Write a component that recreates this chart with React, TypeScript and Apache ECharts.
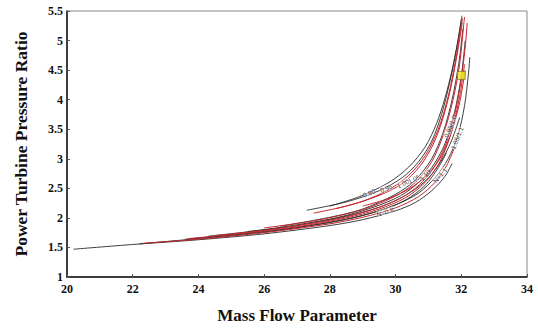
import React, { useEffect, useRef } from "react";
import * as echarts from "echarts";

const xTicks = [20, 22, 24, 26, 28, 30, 32, 34];
const yTicks = [1, 1.5, 2, 2.5, 3, 3.5, 4, 4.5, 5, 5.5];

// Black speed lines (mass flow, pressure ratio)
const black1 = [[20.2,1.47],[22,1.55],[24,1.63],[26,1.73],[28,1.87],[29,1.97],[30,2.12],[30.6,2.26],[31.1,2.46],[31.5,2.7],[31.72,2.92]];
const black2 = [[22.2,1.56],[24,1.65],[26,1.76],[28,1.92],[29,2.04],[30,2.22],[30.7,2.42],[31.2,2.68],[31.6,3.0],[31.9,3.4],[32.1,3.9],[32.22,4.45],[32.26,4.72]];
const black3 = [[23.6,1.64],[25,1.71],[27,1.84],[28.5,1.98],[29.5,2.12],[30.3,2.3],[30.9,2.55],[31.3,2.85],[31.55,3.1]];
const black4 = [[24.3,1.69],[26,1.8],[28,1.98],[29,2.12],[30,2.33],[30.6,2.55],[31.1,2.85],[31.5,3.25],[31.8,3.8],[32.0,4.4],[32.12,5.0]];
const black5 = [[26.5,1.86],[28,2.01],[29,2.15],[30,2.4],[30.6,2.64],[31.1,3.0],[31.45,3.45],[31.72,4.0],[31.92,4.6],[32.05,5.2]];
const black6 = [[27.3,2.13],[28.5,2.27],[29.5,2.46],[30.2,2.68],[30.7,2.95],[31.1,3.3],[31.4,3.75],[31.65,4.3],[31.85,4.85],[32.0,5.35]];
const black7 = [[28.0,2.2],[28.9,2.36],[29.8,2.6],[30.4,2.86],[30.9,3.2],[31.25,3.6],[31.5,4.02],[31.72,4.5],[31.9,5.0],[32.02,5.42]];
const black8 = [[25.5,1.77],[27,1.87],[28.5,2.03],[29.5,2.18],[30.3,2.38],[30.9,2.62],[31.35,2.93],[31.7,3.3],[31.95,3.7]];

// Red speed lines
const red1 = [[22.3,1.57],[24,1.64],[26,1.75],[28,1.9],[29,2.01],[30,2.17],[30.7,2.36],[31.2,2.6],[31.55,2.88],[31.8,3.2]];
const red2 = [[23.7,1.65],[25,1.72],[27,1.85],[28.5,2.0],[29.5,2.15],[30.3,2.34],[30.9,2.6],[31.35,2.95],[31.7,3.45],[31.95,4.05],[32.1,4.6]];
const red3 = [[24.5,1.7],[26,1.79],[28,1.96],[29,2.09],[30,2.29],[30.6,2.5],[31.1,2.8],[31.5,3.2],[31.8,3.75],[32.0,4.35],[32.13,4.95],[32.18,5.3]];
const red4 = [[26,1.83],[27.5,1.95],[29,2.14],[30,2.37],[30.6,2.6],[31.1,2.95],[31.45,3.4],[31.75,4.0],[31.95,4.6],[32.07,5.25],[32.1,5.4]];
const red5 = [[27.5,2.08],[28.5,2.2],[29.5,2.38],[30.2,2.58],[30.75,2.88],[31.15,3.25],[31.45,3.7],[31.7,4.25],[31.9,4.85],[32.03,5.3]];
const red6 = [[28.2,2.16],[29,2.28],[29.8,2.48],[30.4,2.72],[30.9,3.05],[31.3,3.5],[31.6,4.05],[31.82,4.65],[31.98,5.2],[32.04,5.38]];
const red7 = [[29.0,2.2],[29.8,2.33],[30.5,2.52],[31.0,2.75],[31.4,3.05],[31.7,3.45],[31.95,3.95],[32.12,4.5]];

const blackCurves = [black1, black2, black3, black4, black5, black6, black7, black8];
const redCurves = [red1, red2, red3, red4, red5, red6, red7];

// Operating point
const operatingPoint = [32.0, 4.41];

// Speed-line labels
const labelX = [29.68, 29.19, 29.71, 30.23, 30.56, 30.9, 31.35, 31.66, 31.87];
const labelY = [2.1, 2.42, 2.5, 2.58, 2.66, 2.72, 2.72, 3.55, 3.35];
const labelText = ["N=0.8", "0.90", "0.95", "1.00", "1.05", "1.10", "N=1.1", "0.95/1.0", "1.05/1.1"];
const labelRot = [18, 22, 22, 24, 26, 45, 50, 68, 68];

export default function App() {
  const ref = useRef<HTMLDivElement>(null);
  useEffect(() => {
    if (!ref.current) return;
    const chart = echarts.init(ref.current, null, { renderer: "svg" });
    const font = "'Liberation Serif', 'Times New Roman', serif";
    const series: any[] = [];
    blackCurves.forEach((c, i) =>
      series.push({
        type: "line",
        name: "b" + i,
        data: c,
        smooth: 0.3,
        symbol: "none",
        lineStyle: { color: "#2a2a2a", width: 0.9 },
        z: 2,
      })
    );
    redCurves.forEach((c, i) =>
      series.push({
        type: "line",
        name: "r" + i,
        data: c,
        smooth: 0.3,
        symbol: "none",
        lineStyle: { color: "#c4262e", width: 1 },
        z: 3,
      })
    );
    series.push({
      type: "scatter",
      data: labelText.map((t, i) => ({
        value: [labelX[i], labelY[i]],
        name: t,
        label: { rotate: labelRot[i] },
      })),
      symbolSize: 0,
      label: {
        show: true,
        position: "inside",
        formatter: "{b}",
        fontSize: 6.5,
        color: "#000",
        fontFamily: "Arial, sans-serif",
        backgroundColor: "rgba(255,255,255,0.55)",
      },
      z: 4,
    });
    series.push({
      type: "scatter",
      data: [operatingPoint],
      symbol: "rect",
      symbolSize: 8,
      itemStyle: { color: "#f2ee1a", borderColor: "#6a6a20", borderWidth: 0.8 },
      z: 5,
    });

    chart.setOption({
      animation: false,
      grid: {
        left: 67,
        right: 11,
        top: 11,
        bottom: 45,
        show: true,
        borderColor: "#8a8a8a",
        borderWidth: 1,
      },
      xAxis: {
        type: "value",
        min: 20,
        max: 34,
        interval: 2,
        name: "Mass Flow Parameter",
        nameLocation: "middle",
        nameGap: 30,
        nameTextStyle: { fontFamily: font, fontWeight: "bold", fontSize: 17, color: "#111" },
        axisLine: { lineStyle: { color: "#111", width: 1.5 } },
        axisTick: { inside: true, length: 3, lineStyle: { color: "#555" } },
        axisLabel: { fontFamily: font, fontWeight: "bold", fontSize: 12, color: "#111", margin: 6 },
        splitLine: { show: false },
      },
      yAxis: {
        type: "value",
        min: 1,
        max: 5.5,
        interval: 0.5,
        name: "Power Turbine Pressure Ratio",
        nameLocation: "middle",
        nameGap: 37,
        nameTextStyle: { fontFamily: font, fontWeight: "bold", fontSize: 17.5, color: "#111" },
        axisLine: { lineStyle: { color: "#111", width: 1.5 } },
        axisTick: { inside: true, length: 3, lineStyle: { color: "#555" } },
        axisLabel: { fontFamily: font, fontWeight: "bold", fontSize: 12, color: "#111", margin: 4 },
        splitLine: { show: false },
      },
      series,
    });
    return () => chart.dispose();
  }, []);
  return (
    <div
      ref={ref}
      style={{ position: "absolute", left: 0, top: 0, width: 538, height: 329 }}
    />
  );
}
